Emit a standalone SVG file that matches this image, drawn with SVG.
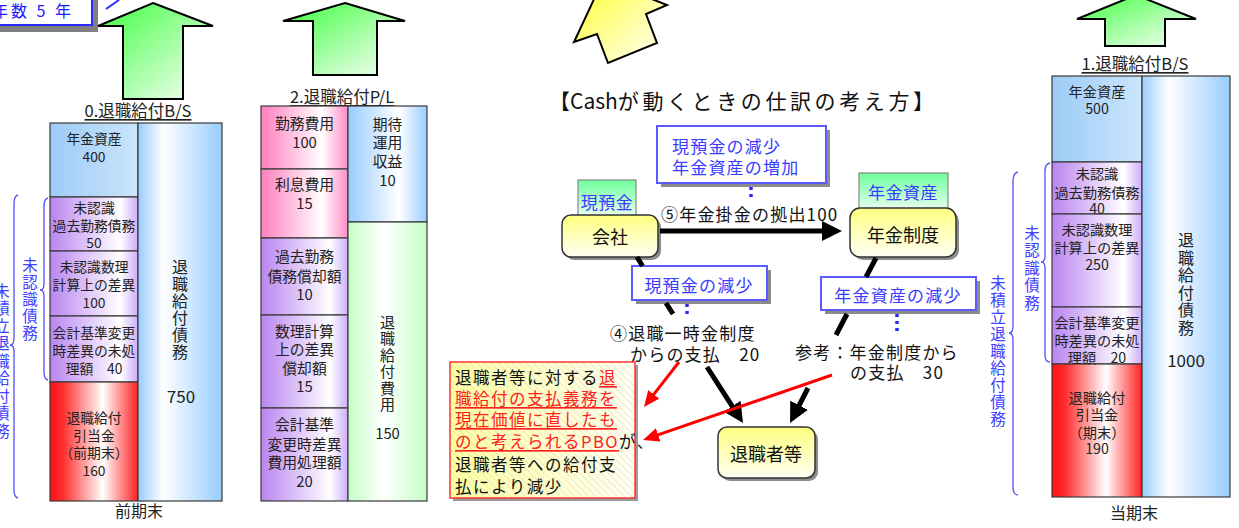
<svg xmlns="http://www.w3.org/2000/svg" width="1239" height="528" viewBox="0 0 1239 528">
<defs>
  <linearGradient id="gArrowGreen" x1="0" y1="0" x2="1" y2="1">
    <stop offset="0" stop-color="#3dff3d"/><stop offset="1" stop-color="#ffffff"/>
  </linearGradient>
  <linearGradient id="gArrowYellow" x1="0" y1="0" x2="1" y2="1">
    <stop offset="0" stop-color="#ffff2a"/><stop offset="1" stop-color="#ffffff"/>
  </linearGradient>
  <linearGradient id="gBlueCell" x1="0" y1="0" x2="1" y2="0">
    <stop offset="0" stop-color="#9dcbf6"/><stop offset="1" stop-color="#cbe5fc"/>
  </linearGradient>
  <linearGradient id="gBlueCol" x1="0" y1="0" x2="1" y2="0">
    <stop offset="0" stop-color="#99ccff"/><stop offset="0.3" stop-color="#ffffff"/><stop offset="1" stop-color="#99ccff"/>
  </linearGradient>
  <linearGradient id="gBluePL" x1="0" y1="0" x2="1" y2="0">
    <stop offset="0" stop-color="#99ccff"/><stop offset="0.65" stop-color="#ffffff"/><stop offset="1" stop-color="#99ccff"/>
  </linearGradient>
  <linearGradient id="gPurple" x1="0" y1="0" x2="1" y2="0">
    <stop offset="0" stop-color="#b985f0"/><stop offset="0.8" stop-color="#ffffff"/><stop offset="1" stop-color="#cdaaf8"/>
  </linearGradient>
  <linearGradient id="gRed" x1="0" y1="0" x2="1" y2="0">
    <stop offset="0" stop-color="#ff1010"/><stop offset="0.15" stop-color="#ff3030"/><stop offset="0.6" stop-color="#ffffff"/><stop offset="1" stop-color="#ff2020"/>
  </linearGradient>
  <linearGradient id="gPink" x1="0" y1="0" x2="1" y2="0">
    <stop offset="0" stop-color="#ff7fbf"/><stop offset="0.7" stop-color="#ffffff"/><stop offset="1" stop-color="#ff8cc6"/>
  </linearGradient>
  <linearGradient id="gGreenCol" x1="0" y1="0" x2="1" y2="0">
    <stop offset="0" stop-color="#c4ffc4"/><stop offset="0.45" stop-color="#ffffff"/><stop offset="1" stop-color="#c4ffc4"/>
  </linearGradient>
  <linearGradient id="gNode" x1="0" y1="0" x2="0" y2="1">
    <stop offset="0" stop-color="#ffff80"/><stop offset="1" stop-color="#fffff4"/>
  </linearGradient>
  <linearGradient id="gTag" x1="0" y1="0" x2="0" y2="1">
    <stop offset="0" stop-color="#6dff9a"/><stop offset="1" stop-color="#eafff0"/>
  </linearGradient>
  <linearGradient id="gNote" x1="0" y1="0" x2="1" y2="0">
    <stop offset="0" stop-color="#ffffa0"/><stop offset="1" stop-color="#fffff2"/>
  </linearGradient>
  <pattern id="hatch" width="5" height="5" patternUnits="userSpaceOnUse" patternTransform="rotate(-45)">
    <line x1="0" y1="0" x2="0" y2="5" stroke="#d6d6c6" stroke-width="1"/>
  </pattern>
  <marker id="ahBlack" markerUnits="userSpaceOnUse" markerWidth="20" markerHeight="20" refX="8" refY="10" orient="auto">
    <path d="M0,0 L20,10 L0,20 z" fill="#000"/>
  </marker>
  <marker id="ahRed" markerUnits="userSpaceOnUse" markerWidth="16" markerHeight="14" refX="8" refY="7" orient="auto">
    <path d="M0,0 L16,7 L0,14 z" fill="#ff0000"/>
  </marker>
</defs>
<style>
  text{font-family:"Noto Sans CJK JP","Noto Sans",sans-serif;dominant-baseline:central}
  .cell{stroke:#3a3a3a;stroke-width:1.2}
  .bs{font-size:13.8px;fill:#222;text-anchor:middle}
  .rbs{font-size:14.2px;fill:#222;text-anchor:middle}
  .pl{font-size:14.8px;fill:#222;text-anchor:middle}
  .vert{writing-mode:vertical-rl;text-anchor:middle}
  .vt{font-size:16px;fill:#222}
  .big{font-size:17px;fill:#222;text-anchor:middle}
  .lbl{font-size:16.5px;fill:#222;text-anchor:middle;text-decoration:underline}
  .foot{font-size:16px;fill:#222;text-anchor:middle}
  .blueV{font-size:15.5px;fill:#4040ff}
  .brace{fill:none;stroke:#5050ff;stroke-width:1.3}
  .garrow{fill:url(#gArrowGreen);stroke:#000;stroke-width:2}
  .c17{font-size:17px;fill:#111;letter-spacing:1.2px}
  .blueT{font-size:17px;fill:#3b3bff;letter-spacing:1.2px}
  .bbox{fill:#fff;stroke:#5a5aff;stroke-width:2}
  .shadow{fill:#8c8c8c}
  .node{fill:url(#gNode);stroke:#333;stroke-width:1.5}
  .tag{fill:url(#gTag);stroke:#888;stroke-width:1.2}
  .note{font-size:16.5px;fill:#111;letter-spacing:1.5px}
  .redu{fill:#ff2020;text-decoration:underline}
  .dots{stroke:#2a2aff;stroke-width:3.5;stroke-dasharray:3 4;fill:none}
</style>
<rect width="1239" height="528" fill="#fff"/>

<!-- top-left partial box -->
<g id="yearsBox">
  <rect x="0" y="0" width="98" height="32" fill="#808080"/>
  <rect x="-5" y="-5" width="97" height="30" fill="#fff" stroke="#2a2aff" stroke-width="2"/>
  <text x="-8" y="10" style="font-size:16px;fill:#1a1aff;letter-spacing:3px">年数 5 年</text>
  <line x1="106" y1="9" x2="119" y2="0" stroke="#2a2aff" stroke-width="2"/>
</g>

<!-- Block arrows -->
<g id="arrow0"><polygon class="garrow" points="153,3 213,26 183,26 183,99 123,99 123,26 98,26"/></g>
<g id="arrow2"><polygon class="garrow" points="345,3 405,21 377,21 377,75 313,75 313,21 283,21"/></g>
<g id="arrow1"><polygon class="garrow" points="1136,-5 1196,19 1165,19 1165,46 1105,46 1105,19 1077,19"/></g>
<g id="arrowCash"><polygon points="603,-20 667,5 646,14 657,43 608,63 597,34 574,42" fill="url(#gArrowYellow)" stroke="#000" stroke-width="2"/></g>

<!-- 0. B/S (previous period end) -->
<g id="bs0">
  <text class="lbl" x="138" y="110">0.退職給付B/S</text>
  <rect class="cell" x="50" y="123" width="88" height="74" fill="url(#gBlueCell)"/>
  <rect class="cell" x="50" y="197" width="88" height="54" fill="url(#gPurple)"/>
  <rect class="cell" x="50" y="251" width="88" height="65" fill="url(#gPurple)"/>
  <rect class="cell" x="50" y="316" width="88" height="66" fill="url(#gPurple)"/>
  <rect class="cell" x="50" y="382" width="88" height="119" fill="url(#gRed)"/>
  <rect class="cell" x="138" y="123" width="84" height="378" fill="url(#gBlueCol)"/>
  <text class="bs" x="94" y="138">年金資産</text>
  <text class="bs" x="94" y="156">400</text>
  <text class="bs" x="94" y="207">未認識</text>
  <text class="bs" x="94" y="225">過去勤務債務</text>
  <text class="bs" x="94" y="242">50</text>
  <text class="bs" x="94" y="266">未認識数理</text>
  <text class="bs" x="94" y="284">計算上の差異</text>
  <text class="bs" x="94" y="302">100</text>
  <text class="bs" x="94" y="332">会計基準変更</text>
  <text class="bs" x="94" y="350">時差異の未処</text>
  <text class="bs" x="94" y="368">理額　40</text>
  <text class="bs" x="94" y="417">退職給付</text>
  <text class="bs" x="94" y="435">引当金</text>
  <text class="bs" x="94" y="452">（前期末）</text>
  <text class="bs" x="94" y="470">160</text>
  <text class="vert vt" x="180" y="310" style="letter-spacing:1px">退職給付債務</text>
  <text class="big" x="181" y="395">750</text>
  <text class="foot" x="139" y="510">前期末</text>
  <path class="brace" d="M48,198 Q44,199 44,206 L44,284 Q44,290 40,290 Q44,290 44,296 L44,372 Q44,379 48,380"/>
  <path class="brace" d="M18,195 Q14,196 14,204 L14,338 Q14,345 10,345 Q14,345 14,352 L14,490 Q14,497 18,498"/>
  <text class="vert blueV" x="30" y="300" style="letter-spacing:1.5px">未認識債務</text>
  <text class="vert blueV" x="2" y="362" style="letter-spacing:2px">未積立退職給付債務</text>
</g>

<!-- 2. P/L -->
<g id="pl2">
  <text class="lbl" x="342" y="96">2.退職給付P/L</text>
  <rect class="cell" x="261" y="106" width="87" height="63" fill="url(#gPink)"/>
  <rect class="cell" x="261" y="169" width="87" height="69" fill="url(#gPink)"/>
  <rect class="cell" x="261" y="238" width="87" height="77" fill="url(#gPurple)"/>
  <rect class="cell" x="261" y="315" width="87" height="93" fill="url(#gPurple)"/>
  <rect class="cell" x="261" y="408" width="87" height="93" fill="url(#gPurple)"/>
  <rect class="cell" x="348" y="106" width="79" height="116" fill="url(#gBluePL)"/>
  <rect class="cell" x="348" y="222" width="79" height="279" fill="url(#gGreenCol)"/>
  <text class="pl" x="304.5" y="122">勤務費用</text>
  <text class="pl" x="304.5" y="141">100</text>
  <text class="pl" x="304.5" y="183">利息費用</text>
  <text class="pl" x="304.5" y="202">15</text>
  <text class="pl" x="304.5" y="255">過去勤務</text>
  <text class="pl" x="304.5" y="275">債務償却額</text>
  <text class="pl" x="304.5" y="293">10</text>
  <text class="pl" x="304.5" y="330">数理計算</text>
  <text class="pl" x="304.5" y="348">上の差異</text>
  <text class="pl" x="304.5" y="367">償却額</text>
  <text class="pl" x="304.5" y="385">15</text>
  <text class="pl" x="304.5" y="423">会計基準</text>
  <text class="pl" x="304.5" y="443">変更時差異</text>
  <text class="pl" x="304.5" y="461">費用処理額</text>
  <text class="pl" x="304.5" y="480">20</text>
  <text class="pl" x="387.5" y="123">期待</text>
  <text class="pl" x="387.5" y="141.5">運用</text>
  <text class="pl" x="387.5" y="160">収益</text>
  <text class="pl" x="387.5" y="179">10</text>
  <text class="vert vt" x="387.5" y="364" style="font-size:15px;letter-spacing:1.5px">退職給付費用</text>
  <text class="pl" x="387.5" y="432">150</text>
</g>

<!-- 1. B/S (current period end) -->
<g id="bs1">
  <text class="lbl" x="1135" y="63">1.退職給付B/S</text>
  <rect class="cell" x="1052" y="76" width="90" height="86" fill="url(#gBlueCell)"/>
  <rect class="cell" x="1052" y="162" width="90" height="52" fill="url(#gPurple)"/>
  <rect class="cell" x="1052" y="214" width="90" height="93" fill="url(#gPurple)"/>
  <rect class="cell" x="1052" y="307" width="90" height="57" fill="url(#gPurple)"/>
  <rect class="cell" x="1052" y="364" width="90" height="133" fill="url(#gRed)"/>
  <rect class="cell" x="1142" y="76" width="88" height="421" fill="url(#gBlueCol)"/>
  <text class="rbs" x="1097" y="91">年金資産</text>
  <text class="rbs" x="1097" y="108">500</text>
  <text class="rbs" x="1097" y="173">未認識</text>
  <text class="rbs" x="1097" y="192">過去勤務債務</text>
  <text class="rbs" x="1097" y="208">40</text>
  <text class="rbs" x="1097" y="229">未認識数理</text>
  <text class="rbs" x="1097" y="247">計算上の差異</text>
  <text class="rbs" x="1097" y="264">250</text>
  <text class="rbs" x="1097" y="322">会計基準変更</text>
  <text class="rbs" x="1097" y="340">時差異の未処</text>
  <text class="rbs" x="1097" y="357">理額　20</text>
  <text class="rbs" x="1097" y="397">退職給付</text>
  <text class="rbs" x="1097" y="414">引当金</text>
  <text class="rbs" x="1097" y="432">（期末）</text>
  <text class="rbs" x="1097" y="448">190</text>
  <text class="vert vt" x="1186" y="284.5" style="letter-spacing:1.5px">退職給付債務</text>
  <text class="big" x="1186" y="359">1000</text>
  <text class="foot" x="1134" y="512">当期末</text>
  <path class="brace" d="M1050,163 Q1045,164 1045,171 L1045,256 Q1045,262 1041,262 Q1045,262 1045,268 L1045,355 Q1045,362 1050,362"/>
  <path class="brace" d="M1018,172 Q1013,173 1013,181 L1013,326 Q1013,333 1009,333 Q1013,333 1013,340 L1013,487 Q1013,495 1018,495"/>
  <text class="vert blueV" x="1032" y="269" style="letter-spacing:2px">未認識債務</text>
  <text class="vert blueV" x="998" y="352" style="letter-spacing:1.6px">未積立退職給付債務</text>
</g>

<!-- Center: title -->
<g id="title">
  <text x="549" y="100" style="font-size:21px;fill:#111">【Cash<tspan style="letter-spacing:3.6px">が動くときの仕訳の考え方】</tspan></text>
</g>

<g id="boxTransfer">
  <rect class="shadow" x="661" y="130" width="169" height="57"/>
  <rect class="bbox" x="657" y="126" width="169" height="57"/>
  <text class="blueT" x="672" y="145">現預金の減少</text>
  <text class="blueT" x="672" y="166">年金資産の増加</text>
</g>

<g id="tagCash">
  <rect class="tag" x="578" y="180" width="58" height="36"/>
  <text class="blueT" x="607" y="201" style="text-anchor:middle;letter-spacing:0.5px">現預金</text>
</g>
<g id="nodeCompany">
  <rect class="shadow" x="565" y="218" width="96" height="42" rx="9"/>
  <rect class="node" x="562" y="215" width="96" height="42" rx="9"/>
  <text x="610" y="236" style="font-size:18px;fill:#111;text-anchor:middle">会社</text>
</g>

<g id="tagAsset">
  <rect class="tag" x="859" y="173" width="89" height="37"/>
  <text class="blueT" x="903" y="191" style="text-anchor:middle;letter-spacing:0.5px">年金資産</text>
</g>
<g id="nodePlan">
  <rect class="shadow" x="853" y="211" width="106" height="49" rx="10"/>
  <rect class="node" x="850" y="208" width="106" height="49" rx="10"/>
  <text x="903" y="234" style="font-size:18px;fill:#111;text-anchor:middle">年金制度</text>
</g>

<g id="labelContribution">
  <text class="c17" x="661" y="213">⑤年金掛金の拠出100</text>
</g>

<g id="boxCashDown">
  <rect class="shadow" x="636" y="270" width="135" height="34"/>
  <rect class="bbox" x="632" y="266" width="135" height="34"/>
  <text class="blueT" x="699" y="284" style="text-anchor:middle">現預金の減少</text>
</g>

<g id="boxAssetDown">
  <rect class="shadow" x="825" y="281" width="155" height="33"/>
  <rect class="bbox" x="821" y="277" width="155" height="33"/>
  <text class="blueT" x="898" y="294" style="text-anchor:middle">年金資産の減少</text>
</g>

<g id="labelLumpSum">
  <text class="c17" x="610" y="332">④退職一時金制度</text>
  <text class="c17" x="630" y="353">からの支払　20</text>
</g>

<g id="labelRef">
  <text class="c17" x="795" y="351">参考：年金制度から</text>
  <text class="c17" x="850" y="371">の支払　30</text>
</g>

<g id="noteBox">
  <rect x="453" y="365" width="185" height="136" fill="#9a9a9a"/>
  <rect x="450" y="362" width="185" height="136" fill="url(#gNote)"/>
  <rect x="450" y="362" width="185" height="136" fill="url(#hatch)" stroke="#ff3333" stroke-width="1.5"/>
  <text class="note" x="455" y="377">退職者等に対する<tspan class="redu">退</tspan></text>
  <text class="note" x="455" y="398"><tspan class="redu">職給付の支払義務を</tspan></text>
  <text class="note" x="455" y="419"><tspan class="redu">現在価値に直したも</tspan></text>
  <text class="note" x="455" y="441"><tspan class="redu">のと考えられるPBO</tspan>が、</text>
  <text class="note" x="455" y="464">退職者等への給付支</text>
  <text class="note" x="455" y="486">払により減少</text>
</g>

<g id="nodeRetirees">
  <rect class="shadow" x="721" y="430" width="97" height="51" rx="9"/>
  <rect class="node" x="718" y="427" width="97" height="51" rx="9"/>
  <text x="766" y="453" style="font-size:18px;fill:#111;text-anchor:middle">退職者等</text>
</g>

<!-- Connectors -->
<g id="connectors">
  <line x1="660" y1="231" x2="830" y2="231" stroke="#000" stroke-width="5" marker-end="url(#ahBlack)"/>
  <path d="M637,257 L642.5,266 M666,303 L673,314 M707,367 L736.5,412.9" fill="none" stroke="#000" stroke-width="5" marker-end="url(#ahBlack)"/>
  <path d="M876,258 L866,277 M847,314 L836,335 M808,388 L795.5,412.4" fill="none" stroke="#000" stroke-width="5" marker-end="url(#ahBlack)"/>
  <line x1="679" y1="362" x2="648.9" y2="400.7" stroke="#ff0000" stroke-width="3" marker-end="url(#ahRed)"/>
  <line x1="832" y1="375" x2="650.6" y2="437.4" stroke="#ff0000" stroke-width="3" marker-end="url(#ahRed)"/>
  <line class="dots" x1="751" y1="187" x2="751" y2="199"/>
  <line class="dots" x1="687" y1="304" x2="687" y2="314"/>
  <line class="dots" x1="897" y1="314" x2="897" y2="334"/>
</g>
</svg>
